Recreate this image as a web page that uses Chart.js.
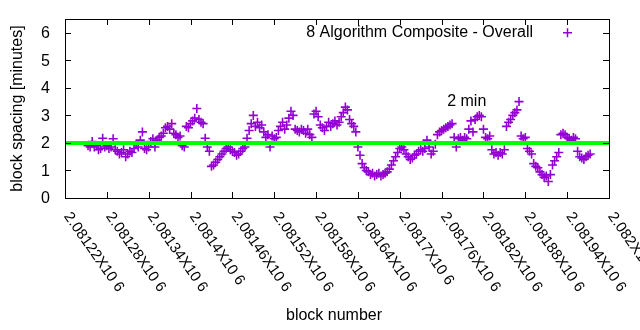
<!DOCTYPE html>
<html>
<head>
<meta charset="utf-8">
<script src="https://cdn.jsdelivr.net/npm/chart.js@4/dist/chart.umd.min.js"></script>
<style>
html,body{margin:0;padding:0;background:#fff;}
canvas{display:block;}
</style>
</head>
<body>
<canvas id="c" width="640" height="330"></canvas>
<script>
const blocks = [
2081253,2081256,2081259,2081262,2081265,2081268,2081271,2081274,2081277,2081280,
2081283,2081286,2081289,2081292,2081295,2081298,2081301,2081304,2081307,2081310,
2081313,2081316,2081319,2081322,2081325,2081328,2081331,2081334,2081337,2081340,
2081343,2081346,2081349,2081352,2081355,2081358,2081361,2081364,2081367,2081370,
2081373,2081376,2081379,2081382,2081385,2081388,2081391,2081394,2081397,2081400,
2081403,2081406,2081409,2081412,2081415,2081418,2081421,2081424,2081427,2081430,
2081433,2081436,2081439,2081442,2081445,2081448,2081451,2081454,2081457,2081460,
2081463,2081466,2081469,2081472,2081475,2081478,2081481,2081484,2081487,2081490,
2081493,2081496,2081499,2081502,2081505,2081508,2081511,2081514,2081517,2081520,
2081523,2081526,2081529,2081532,2081535,2081538,2081541,2081544,2081547,2081550,
2081553,2081556,2081559,2081562,2081565,2081568,2081571,2081574,2081577,2081580,
2081583,2081586,2081589,2081592,2081595,2081598,2081601,2081604,2081607,2081610,
2081613,2081616,2081619,2081622,2081625,2081628,2081631,2081634,2081637,2081640,
2081643,2081646,2081649,2081652,2081655,2081658,2081661,2081664,2081667,2081670,
2081673,2081676,2081679,2081682,2081685,2081688,2081691,2081694,2081697,2081700,
2081703,2081706,2081709,2081712,2081715,2081718,2081721,2081724,2081727,2081730,
2081733,2081736,2081739,2081742,2081745,2081748,2081751,2081754,2081757,2081760,
2081763,2081766,2081769,2081772,2081775,2081778,2081781,2081784,2081787,2081790,
2081793,2081796,2081799,2081802,2081805,2081808,2081811,2081814,2081817,2081820,
2081823,2081826,2081829,2081832,2081835,2081838,2081841,2081844,2081847,2081850,
2081853,2081856,2081859,2081862,2081865,2081868,2081871,2081874,2081877,2081880,
2081883,2081886,2081889,2081892,2081895,2081898,2081901,2081904,2081907,2081910,
2081913,2081916,2081919,2081922,2081925,2081928,2081931,2081934,2081937,2081940,
2081943,2081946,2081949,2081952,2081955,2081958,2081961,2081964,2081967,2081970,
2081973
];
const spacingMinutes = [
1.9,1.85,2.05,1.85,1.9,1.75,1.8,2.17,1.85,1.9,
1.8,1.85,2.15,1.75,1.7,1.6,1.65,1.75,1.5,1.6,
1.7,1.65,1.8,1.95,1.85,2.1,2.4,1.8,1.75,1.85,
2.05,2.15,1.85,2.1,2.2,2.25,2.35,2.55,2.6,2.5,
2.7,2.35,2.3,2.2,2.25,1.9,1.85,2.6,2.55,2.7,
2.8,2.9,3.25,2.85,2.75,2.7,2.17,1.85,1.7,1.15,
1.2,1.3,1.4,1.5,1.6,1.7,1.8,1.85,1.75,1.7,
1.65,1.55,1.6,1.7,1.8,1.85,2.17,2.45,2.7,3.0,
2.6,2.75,2.55,2.65,2.4,2.2,2.3,1.85,2.25,2.15,
2.2,2.45,2.6,2.75,2.5,2.65,2.9,3.15,3.0,2.5,
2.45,2.4,2.5,2.45,2.35,2.5,2.3,2.2,3.05,3.15,
2.95,2.65,2.55,2.45,2.6,2.75,2.6,2.7,2.8,2.65,
2.75,2.95,3.1,3.3,3.2,2.85,2.7,2.6,2.4,1.85,
1.55,1.25,1.1,1.0,0.95,0.85,0.9,0.8,0.85,0.9,
0.8,0.85,0.9,0.95,1.05,1.2,1.35,1.5,1.65,1.8,
1.85,1.75,1.6,1.5,1.4,1.45,1.55,1.6,1.7,1.75,
1.7,1.8,2.1,1.85,1.6,1.7,1.95,2.3,2.4,2.45,
2.5,2.55,2.6,2.65,2.7,2.2,1.85,2.15,2.2,2.1,
2.2,2.15,2.5,2.8,2.4,2.85,2.95,3.0,2.95,2.5,
2.2,2.15,2.25,1.75,1.6,1.65,1.55,1.65,1.6,1.75,
2.6,2.75,2.85,3.0,3.1,3.2,3.5,2.25,2.15,2.2,
1.8,1.7,1.6,1.25,1.15,1.1,0.95,0.85,0.75,0.8,
0.6,0.85,1.2,1.35,1.5,1.65,2.3,2.35,2.3,2.2,
2.15,2.1,2.2,2.15,1.7,1.5,1.45,1.4,1.5,1.55,
1.6
];
const targetLevel = 2;
const xRange = [2081220, 2082000];
const yRange = [0, 6.5];
const xTickValues = [2081220,2081280,2081340,2081400,2081460,2081520,2081580,2081640,2081700,2081760,2081820,2081880,2081940,2082000];
const xTickLabels = ['2.08122X10 6','2.08128X10 6','2.08134X10 6','2.0814X10 6','2.08146X10 6','2.08152X10 6','2.08158X10 6','2.08164X10 6','2.0817X10 6','2.08176X10 6','2.08182X10 6','2.08188X10 6','2.08194X10 6','2.082X10 6'];
const yTickValues = [0,1,2,3,4,5,6];
const yTickLabels = ['0','1','2','3','4','5','6'];
const seriesName = '8 Algorithm Composite - Overall';
const annotationText = '2 min';
const annotationPos = [2081768, 3.5];
const xTitle = 'block number';
const yTitle = 'block spacing [minutes]';

const FONT = '16px "Liberation Sans", Arial, sans-serif';
const TICKFONT = '15px "Liberation Sans", Arial, sans-serif';
const PURPLE = '#9400d3';

const gp = {
  id: 'gp',
  afterDraw(chart) {
    const ctx = chart.ctx;
    const a = chart.chartArea;
    const xs = chart.scales.x, ys = chart.scales.y;
    ctx.save();
    ctx.strokeStyle = '#000';
    ctx.lineWidth = 1;
    ctx.strokeRect(Math.round(a.left) + 0.5, Math.round(a.top) + 0.5, Math.round(a.right - a.left), Math.round(a.bottom - a.top));
    const tl = 6;
    ctx.beginPath();
    yTickValues.forEach(v => {
      const y = Math.round(ys.getPixelForValue(v)) + 0.5;
      ctx.moveTo(a.left, y); ctx.lineTo(a.left + tl, y);
      ctx.moveTo(a.right, y); ctx.lineTo(a.right - tl, y);
    });
    xTickValues.forEach(v => {
      const x = Math.round(xs.getPixelForValue(v)) + 0.5;
      ctx.moveTo(x, a.bottom); ctx.lineTo(x, a.bottom - tl);
      ctx.moveTo(x, a.top); ctx.lineTo(x, a.top + tl);
    });
    ctx.stroke();
    ctx.fillStyle = '#000';
    ctx.font = FONT;
    ctx.textAlign = 'right';
    ctx.textBaseline = 'middle';
    yTickValues.forEach((v, i) => {
      ctx.fillText(yTickLabels[i], a.left - 15, ys.getPixelForValue(v) + 1);
    });
    const ang = 55 * Math.PI / 180;
    ctx.font = TICKFONT;
    xTickValues.forEach((v, i) => {
      const x = xs.getPixelForValue(v);
      ctx.save();
      ctx.translate(x + 2, a.bottom + 16);
      ctx.rotate(ang);
      ctx.textAlign = 'left';
      ctx.textBaseline = 'middle';
      ctx.fillText(xTickLabels[i], 0, 0);
      ctx.restore();
    });
    ctx.font = FONT;
    ctx.textAlign = 'center';
    ctx.fillText(xTitle, (a.left + a.right) / 2 - 3, 316);
    ctx.save();
    ctx.translate(18, (a.top + a.bottom) / 2);
    ctx.rotate(-Math.PI / 2);
    ctx.fillText(yTitle, 0, 0);
    ctx.restore();
    // legend
    const ly = ys.getPixelForValue(6);
    ctx.textAlign = 'right';
    ctx.fillText(seriesName, 533, ly);
    ctx.strokeStyle = PURPLE;
    ctx.lineWidth = 1.5;
    ctx.beginPath();
    ctx.moveTo(563, ly); ctx.lineTo(572, ly);
    ctx.moveTo(567.5, ly - 4.5); ctx.lineTo(567.5, ly + 4.5);
    ctx.stroke();
    // annotation
    ctx.fillStyle = '#000';
    ctx.textAlign = 'left';
    ctx.fillText(annotationText, xs.getPixelForValue(annotationPos[0]), ys.getPixelForValue(annotationPos[1]));
    ctx.restore();
  }
};

new Chart(document.getElementById('c'), {
  type: 'scatter',
  data: {
    datasets: [
      {
        label: 'level',
        type: 'line',
        data: [{x: xRange[0], y: targetLevel}, {x: xRange[1], y: targetLevel}],
        borderColor: '#00ff00',
        borderWidth: 4,
        pointRadius: 0,
        fill: false,
        order: 0
      },
      {
        label: seriesName,
        data: blocks.map((b, i) => ({x: b, y: spacingMinutes[i]})),
        pointStyle: 'cross',
        pointRadius: 4.5,
        pointBorderWidth: 1.6,
        borderColor: PURPLE,
        backgroundColor: PURPLE,
        showLine: false,
        order: 1
      }
    ]
  },
  options: {
    responsive: false,
    animation: false,
    devicePixelRatio: 1,
    layout: {padding: {left: 65, right: 31, top: 19, bottom: 132}},
    plugins: {legend: {display: false}, tooltip: {enabled: false}},
    scales: {
      x: {type: 'linear', display: false, min: xRange[0], max: xRange[1]},
      y: {type: 'linear', display: false, min: yRange[0], max: yRange[1]}
    }
  },
  plugins: [gp]
});
</script>
</body>
</html>
